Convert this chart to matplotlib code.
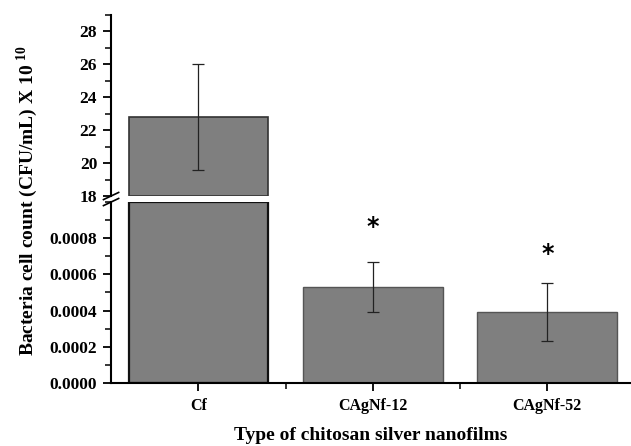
import numpy as np
import matplotlib
matplotlib.use("Agg")
import matplotlib.pyplot as plt
from matplotlib.ticker import MultipleLocator

plt.rcParams['font.family'] = 'Liberation Serif'
plt.rcParams['font.weight'] = 'bold'
plt.rcParams['mathtext.fontset'] = 'custom'
plt.rcParams['mathtext.rm'] = 'Liberation Serif'

# data (upper panel is x 10^10, lower panel shown on the same label)
categories = ["Cf", "CAgNf-12", "CAgNf-52"]
counts = [22.8, 0.00053, 0.00039]
errors = [3.2, 0.00014, 0.00016]
significant = [False, True, True]
star_heights = [None, 0.00086, 0.00071]

lower_lim = (0, 0.001)
upper_lim = (18, 29)

x = np.arange(len(categories))
counts = np.array(counts)
errors = np.array(errors)

fig = plt.figure(figsize=(6.31, 4.46), dpi=100)
ax_top = fig.add_axes([0.176, 0.5605, 0.824, 0.4058])
ax_bot = fig.add_axes([0.176, 0.1413, 0.824, 0.4058])

fill = "#7f7f7f"
edges = ["#111111", "#555555", "#555555"]
widths = [1.6, 1.0, 1.0]

# lower panel: bars cut at the top of the range
low_h = np.minimum(counts, lower_lim[1])
for i in range(len(x)):
    ax_bot.bar(x[i], low_h[i], width=0.8, color=fill, edgecolor=edges[i], linewidth=widths[i])
    if counts[i] < lower_lim[1]:
        ax_bot.errorbar(x[i], counts[i], yerr=errors[i], fmt="none", ecolor="#222222",
                        elinewidth=0.9, capsize=4, capthick=0.9)
    if significant[i]:
        ax_bot.text(x[i], star_heights[i], "*", ha="center", va="center",
                    fontsize=17, fontweight="bold", family="DejaVu Sans")

# upper panel: bars starting at the break
for i in range(len(x)):
    if counts[i] > upper_lim[0]:
        ax_top.bar(x[i], counts[i] - upper_lim[0], bottom=upper_lim[0], width=0.8,
                   color=fill, edgecolor="#333333", linewidth=1.2)
        ax_top.errorbar(x[i], counts[i], yerr=errors[i], fmt="none", ecolor="#222222",
                        elinewidth=0.9, capsize=4, capthick=0.9)

for ax in (ax_top, ax_bot):
    ax.set_xlim(-0.5, 2.48)
    ax.spines['right'].set_visible(False)
    ax.spines['left'].set_linewidth(1.5)
    ax.spines['bottom'].set_linewidth(1.5)
    ax.tick_params(axis='y', which='major', direction='out', length=6, width=1.3,
                   labelsize=12.5, pad=4)
    ax.tick_params(axis='y', which='minor', direction='out', length=4, width=1.1)

ax_top.set_ylim(*upper_lim)
ax_top.set_yticks([18, 20, 22, 24, 26, 28])
ax_top.yaxis.set_minor_locator(MultipleLocator(1))
ax_top.spines['top'].set_visible(False)
ax_top.spines['bottom'].set_visible(False)
ax_top.set_xticks([])

ax_bot.set_ylim(*lower_lim)
ax_bot.set_yticks([0, 0.0002, 0.0004, 0.0006, 0.0008])
ax_bot.set_yticklabels([f"{v:.4f}" for v in [0, 0.0002, 0.0004, 0.0006, 0.0008]])
ax_bot.yaxis.set_minor_locator(MultipleLocator(0.0001))
ax_bot.spines['top'].set_visible(False)
ax_bot.set_xticks(x)
ax_bot.set_xticklabels(categories, fontsize=11.5, fontweight='bold')
ax_bot.set_xticks([0.5, 1.5], minor=True)
ax_bot.tick_params(axis='x', which='major', direction='out', length=6, width=1.3, pad=5)
ax_bot.tick_params(axis='x', which='minor', direction='out', length=4, width=1.1)
ax_bot.set_xlabel("Type of chitosan silver nanofilms", fontsize=14, fontweight='bold', labelpad=9)

# break marks on the left spine
for yc in (0.5605, 0.5470):
    fig.add_artist(plt.Line2D([0.176 - 0.012, 0.176 + 0.012], [yc - 0.008, yc + 0.008],
                              color="black", lw=1.2, transform=fig.transFigure))
fig.add_artist(plt.Line2D([0.176, 0.176], [0.5475, 0.5605], color="white", lw=2.5,
                          transform=fig.transFigure, zorder=0))

fig.text(0.043, 0.55, "Bacteria cell count (CFU/mL) X 10 $^{10}$", rotation=90,
         ha="center", va="center", fontsize=14, fontweight='bold')

fig.savefig("out.png", dpi=100)
